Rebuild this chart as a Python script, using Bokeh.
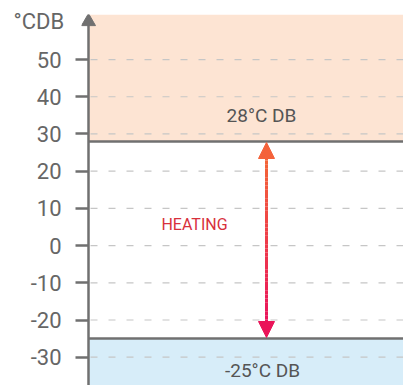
import numpy as np
from bokeh.plotting import figure
from bokeh.models import Range1d, FixedTicker, Arrow, NormalHead, Title
from bokeh.core.properties import value
from bokeh.embed import file_html
from bokeh.resources import INLINE

# ---- data ----
y_ticks = [-30, -20, -10, 0, 10, 20, 30, 40, 50]
y_tick_labels = ["-30", "-20", "-10", "0", "10", "20", "30", "40", "50"]
upper_limit = 28
lower_limit = -25
upper_label = "28°C DB"
lower_label = "-25°C DB"
mode_label = "HEATING"
unit_label = "°CDB"

Y_MIN, Y_MAX = -37.6, 62.1
X_MIN, X_MAX = -7, 315          # x = 0 is where the drawn axis line sits
FONT = "Roboto"
GREY = "#707070"

p = figure(width=403, height=385, output_backend="svg", toolbar_location=None,
           x_range=Range1d(X_MIN, X_MAX), y_range=Range1d(Y_MIN, Y_MAX),
           min_border_left=81, min_border_top=14, min_border_right=0, min_border_bottom=0)
p.outline_line_color = None
p.xaxis.visible = False
p.xgrid.visible = False
p.ygrid.visible = False
p.background_fill_color = "white"
p.border_fill_color = "white"

# bands
p.quad(left=[0], right=[X_MAX], bottom=[upper_limit], top=[Y_MAX],
       fill_color="#fde4d3", line_color=None)
p.quad(left=[0], right=[X_MAX], bottom=[Y_MIN], top=[lower_limit],
       fill_color="#d7edf9", line_color=None)

# dashed grid
p.segment(x0=[2] * len(y_ticks), x1=[X_MAX] * len(y_ticks), y0=y_ticks, y1=y_ticks,
          line_color="#c6c6c6", line_width=1.2, line_dash="7 11")

# limit lines
p.segment(x0=[0, 0], x1=[X_MAX, X_MAX], y0=[upper_limit, lower_limit],
          y1=[upper_limit, lower_limit], line_color=GREY, line_width=2.5)

# axis line and its arrow head
p.segment(x0=[0], x1=[0], y0=[Y_MIN], y1=[Y_MAX - 2], line_color=GREY, line_width=2.5)
p.scatter(x=[0], y=[Y_MAX - 1.9], marker="triangle", size=14,
          fill_color=GREY, line_color=GREY)

# gradient arrow shaft
ax = 178.0
n = 40
top_end = upper_limit - 4.0
bot_end = lower_limit + 4.0
ys = np.linspace(top_end, bot_end, n + 1)
c0 = np.array([0xf4, 0x66, 0x38])
c1 = np.array([0xea, 0x14, 0x5c])
cols = []
for i in range(n):
    t = i / (n - 1)
    c = (c0 * (1 - t) + c1 * t).astype(int)
    cols.append("#%02x%02x%02x" % tuple(c))
p.segment(x0=[ax] * n, x1=[ax] * n, y0=ys[:-1], y1=ys[1:], line_color=cols, line_width=3)

# arrow heads
p.add_layout(Arrow(x_start=ax, y_start=upper_limit - 1, x_end=ax, y_end=upper_limit - 0.3,
                   line_alpha=0,
                   end=NormalHead(size=16, fill_color="#f4623a", line_color="#f4623a")))
p.add_layout(Arrow(x_start=ax, y_start=lower_limit + 1, x_end=ax, y_end=lower_limit + 0.3,
                   line_alpha=0,
                   end=NormalHead(size=16, fill_color="#ea1459", line_color="#ea1459")))

# texts
p.text(x=[173], y=[34.9], text=[upper_label], text_font=value(FONT), text_font_size="19px",
       text_color="#555555", text_align="center", text_baseline="middle")
p.text(x=[174], y=[-33.7], text=[lower_label], text_font=value(FONT), text_font_size="19px",
       text_color="#555555", text_align="center", text_baseline="middle")
p.text(x=[106], y=[5.6], text=[mode_label], text_font=value(FONT), text_font_size="16px",
       text_color="#d8303c", text_align="center", text_baseline="middle")

# y axis (ticks reach from the frame edge to the drawn axis line)
yax = p.yaxis[0]
yax.ticker = FixedTicker(ticks=y_ticks)
yax.major_label_overrides = dict(zip(y_ticks, y_tick_labels))
yax.minor_tick_line_color = None
yax.axis_line_color = None
yax.major_tick_line_color = GREY
yax.major_tick_line_width = 2.5
yax.major_tick_out = 6
yax.major_tick_in = 7
yax.major_label_standoff = 14
yax.major_label_text_font = FONT
yax.major_label_text_font_size = "22px"
yax.major_label_text_color = "#666666"

# unit label
p.add_layout(Title(text=unit_label, align="left", offset=-68, standoff=-38,
                   vertical_align="bottom", text_font=FONT, text_font_size="22px",
                   text_font_style="normal", text_color="#666666",
                   text_line_height=0.1), "above")

open("out.html", "w").write(file_html(p, INLINE))
